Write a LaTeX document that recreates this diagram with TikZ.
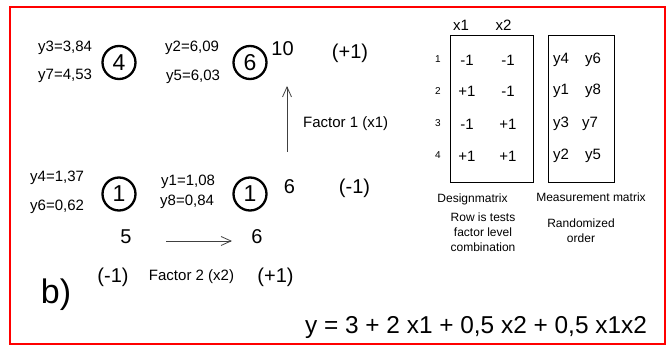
\documentclass[tikz,border=0pt]{standalone}
\usepackage{fontspec}
\setmainfont{Liberation Sans}
\usepackage{tikz}
\usetikzlibrary{arrows.meta, positioning}

\begin{document}
\begin{tikzpicture}[
  x=1pt, y=-1pt,
  val/.style={anchor=west, inner sep=0pt, font=\fontsize{15}{15}\selectfont},
  big/.style={inner sep=0pt, font=\fontsize{20}{20}\selectfont},
  mid/.style={inner sep=0pt, font=\fontsize{15}{15}\selectfont},
  level/.style={draw, circle, line width=2.3pt, minimum size=33pt, inner sep=0pt, font=\fontsize{23}{23}\selectfont},
  rownum/.style={inner sep=0pt, font=\fontsize{10}{10}\selectfont},
  caption/.style={inner sep=0pt, align=center, font=\fontsize{12}{15}\selectfont},
  matbox/.style={draw, line width=0.8pt, minimum width=83pt, minimum height=147pt, inner sep=0pt},
  arrow/.style={-{Straight Barb[length=10pt, width=9pt]}, line width=0.8pt, black!75}
]
\useasboundingbox (0,0) rectangle (667,347);

% frame
\draw[red, line width=1.5pt] (10,7) rectangle (665,344);

% === Upper level of factor 1 ===
\node[val] (y3) at (38,48) {y3=3,84};
\node[val] (y7) at (38,76) {y7=4,53};
\node[level] (c4) at (119,62.5) {4};

\node[val] (y2) at (165,48) {y2=6,09};
\node[val] (y5) at (166,77) {y5=6,03};
\node[level] (c6) at (250,62.5) {6};

\node[big] (n10) at (282.5,49) {10};
\node[big] (hi1) at (350,53) {(+1)};

% Factor 1 arrow
\coordinate (f1a) at (287,152);
\coordinate (f1b) at (287,86);
\draw[arrow] (f1a) -- (f1b);
\node[val] (fac1) at (303,124) {Factor 1 (x1)};

% === Lower level of factor 1 ===
\node[val] (y4) at (30,178) {y4=1,37};
\node[val] (y6) at (30,207) {y6=0,62};
\node[level] (c1a) at (119,194) {1};

\node[val] (y1) at (161,182) {y1=1,08};
\node[val] (y8) at (160,202) {y8=0,84};
\node[level] (c1b) at (250,194) {1};

\node[big] (n6a) at (289.5,187) {6};
\node[big] (lo1) at (354.5,188) {(-1)};

% Factor 2 arrow
\node[big] (n5) at (126,237) {5};
\node[big] (n6b) at (257,237) {6};
\coordinate (f2a) at (166,241);
\coordinate (f2b) at (232,241);
\draw[arrow] (f2a) -- (f2b);

\node[big] (lo2) at (113,277) {(-1)};
\node[mid] (fac2) at (191.5,277) {Factor 2 (x2)};
\node[big] (hi2) at (275.5,277) {(+1)};

\node[inner sep=0pt, font=\fontsize{34}{34}\selectfont] (lab) at (56,295) {b)};

% model
\node[inner sep=0pt, font=\fontsize{24.4}{24.4}\selectfont] (model) at (476,328) {y = 3 + 2 x1 + 0,5 x2 + 0,5 x1x2};

% === Design matrix ===
\node[mid] (hx1) at (461,25) {x1};
\node[mid] (hx2) at (503.5,25) {x2};
\node[matbox] (design) at (491.5,108.5) {};

\node[rownum] (r1) at (438,59) {1};
\node[rownum] (r2) at (438,91) {2};
\node[rownum] (r3) at (438,123) {3};
\node[rownum] (r4) at (438,155) {4};

\node[mid] (d11) at (467,60) {-1};
\node[mid] (d12) at (508,60) {-1};
\node[mid] (d21) at (467,91) {+1};
\node[mid] (d22) at (508,91) {-1};
\node[mid] (d31) at (467,124) {-1};
\node[mid] (d32) at (508,124) {+1};
\node[mid] (d41) at (467,156) {+1};
\node[mid] (d42) at (508,156) {+1};

\node[caption] (dname) at (472.5,199) {Designmatrix};
\node[caption] (dnote) at (483,232) {Row is tests\\factor level\\combination};

% === Measurement matrix ===
\node[matbox, minimum width=66pt] (meas) at (581,108.5) {};

\node[mid] (m11) at (561,60) {y4};
\node[mid] (m12) at (593,60) {y6};
\node[mid] (m21) at (561,91) {y1};
\node[mid] (m22) at (593,91) {y8};
\node[mid] (m31) at (561,124) {y3};
\node[mid] (m32) at (590,124) {y7};
\node[mid] (m41) at (561,156) {y2};
\node[mid] (m42) at (593,156) {y5};

\node[caption] (mname) at (591,197) {Measurement matrix};
\node[caption] (mnote) at (581,230.5) {Randomized\\order};

\end{tikzpicture}
\end{document}
